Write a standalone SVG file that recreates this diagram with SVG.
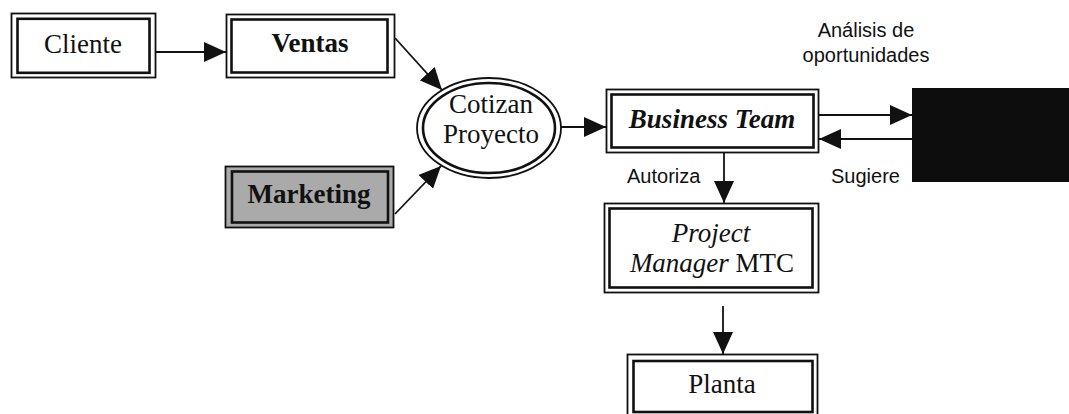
<svg xmlns="http://www.w3.org/2000/svg" width="1069" height="414" viewBox="0 0 1069 414">
  <style>
    .outer { fill: none; stroke: #111; stroke-width: 1.8; }
    .inner { fill: none; stroke: #111; stroke-width: 2.6; }
    .serif { font-family: "Liberation Serif", "Times New Roman", serif; font-size: 27px; fill: #111; text-anchor: middle; }
    .sans { font-family: "Liberation Sans", Arial, sans-serif; font-size: 20px; fill: #111; }
    .link { fill: none; stroke: #111; stroke-width: 1.8; marker-end: url(#head); }
  </style>
  <defs>
    <marker id="head" markerUnits="userSpaceOnUse" markerWidth="22" markerHeight="20" refX="22" refY="10" orient="auto">
      <path d="M0,0 L22,10 L0,20 Z" fill="#111"/>
    </marker>
  </defs>
  <rect width="1069" height="414" fill="#fff"/>

  <!-- connectors -->
  <g id="connectors">
    <line class="link" x1="156" y1="52" x2="226" y2="52"/>
    <line class="link" x1="395" y1="38" x2="442" y2="90"/>
    <line class="link" x1="395" y1="214" x2="441" y2="166"/>
    <line class="link" x1="561" y1="127" x2="606" y2="127"/>
    <line class="link" x1="819" y1="115" x2="912" y2="115"/>
    <line class="link" x1="912" y1="139" x2="819" y2="139"/>
    <line class="link" x1="724" y1="153" x2="724" y2="203"/>
    <line class="link" x1="723" y1="306" x2="723" y2="354"/>
  </g>

  <!-- connector labels -->
  <g id="labels">
    <text class="sans" x="866" y="37" text-anchor="middle">Análisis de</text>
    <text class="sans" x="866" y="62" text-anchor="middle">oportunidades</text>
    <text class="sans" x="627" y="183">Autoriza</text>
    <text class="sans" x="831" y="183">Sugiere</text>
  </g>

  <g id="cliente">
    <rect class="outer" x="11.5" y="13.5" width="144" height="64"/>
    <rect class="inner" x="17.5" y="18.8" width="132" height="54"/>
    <text class="serif" x="83" y="53">Cliente</text>
  </g>

  <g id="ventas">
    <rect class="outer" x="226.5" y="14.5" width="168" height="63"/>
    <rect class="inner" x="231.5" y="19.5" width="156" height="53"/>
    <text class="serif" x="310" y="52" font-weight="bold" font-size="26">Ventas</text>
  </g>

  <g id="marketing">
    <rect x="225" y="166" width="169" height="62" fill="#aaa"/>
    <rect class="outer" x="225.5" y="166.5" width="168" height="61"/>
    <rect class="inner" x="232" y="171.5" width="156" height="51"/>
    <text class="serif" x="309" y="203" font-weight="bold" font-size="25">Marketing</text>
  </g>

  <g id="cotizan">
    <ellipse class="outer" cx="489" cy="128" rx="72" ry="50"/>
    <ellipse class="inner" cx="489" cy="128" rx="66" ry="45"/>
    <text class="serif" x="491" y="113">Cotizan</text>
    <text class="serif" x="491" y="143">Proyecto</text>
  </g>

  <g id="business-team">
    <rect class="outer" x="606.5" y="89.5" width="212" height="63"/>
    <rect class="inner" x="611.5" y="94.5" width="202" height="53"/>
    <text class="serif" x="712" y="128" font-style="italic" font-weight="bold" font-size="26">Business Team</text>
  </g>

  <g id="analisis">
    <rect x="912" y="88" width="157" height="94" fill="#0d0d0d"/>
  </g>

  <g id="project-manager">
    <rect class="outer" x="604.5" y="203.5" width="214" height="89"/>
    <rect class="inner" x="609.5" y="208.5" width="203" height="79"/>
    <text class="serif" x="711" y="242" font-style="italic">Project</text>
    <text class="serif" x="712" y="272"><tspan font-style="italic">Manager</tspan> MTC</text>
  </g>

  <g id="planta">
    <rect class="outer" x="627.5" y="354.5" width="190" height="70"/>
    <rect class="inner" x="633.5" y="361" width="179" height="51"/>
    <text class="serif" x="722" y="393">Planta</text>
  </g>
</svg>
